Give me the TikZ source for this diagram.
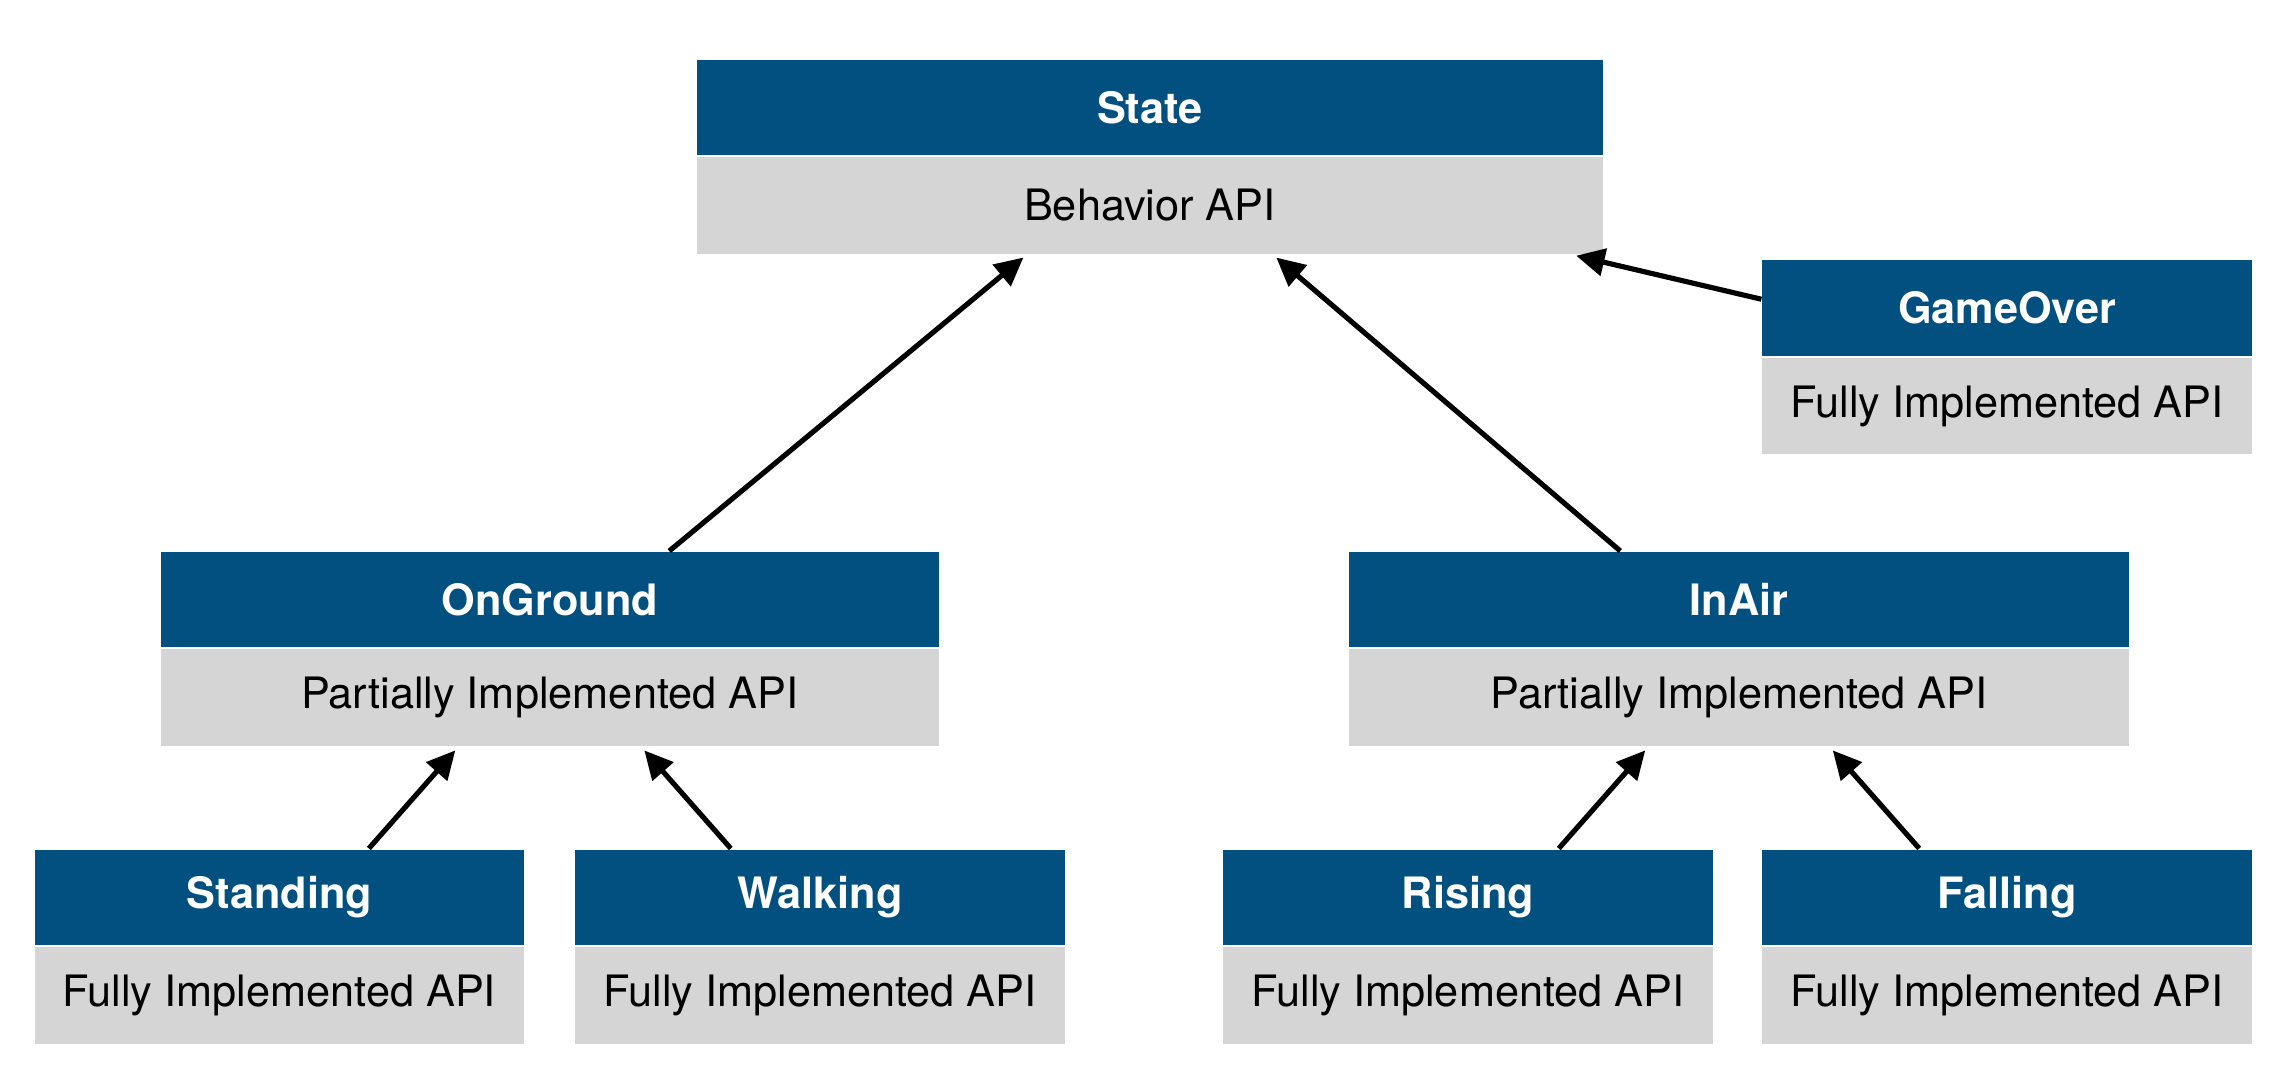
\documentclass[tikz,border=0pt]{standalone}
\usepackage{fontspec}
\setmainfont{TeX Gyre Heros}
\usetikzlibrary{positioning,arrows.meta}
\definecolor{headblue}{HTML}{02507F}
\definecolor{bodygray}{HTML}{D5D5D5}

\begin{document}
\begin{tikzpicture}[
    head/.style={fill=headblue, text=white, anchor=north west, minimum height=0.65cm,
        inner sep=0pt, font=\fontsize{8.4}{10}\selectfont\bfseries},
    api/.style={fill=bodygray, anchor=north, minimum height=0.66cm, inner sep=0pt,
        font=\fontsize{8.4}{10}\selectfont},
    inherit/.style={line width=1pt, -{Triangle[length=5.5pt,width=5.3pt]}, shorten >=0.03cm}
    ]
    \useasboundingbox (0,0) rectangle (15.6,7.38);
    % top of the hierarchy
    \node[head, minimum width=6.18cm] (state) at (4.75,6.98) {State};
    \node[api, minimum width=6.18cm, below=0pt of state] (stateapi) {Behavior API};
    \node[head, minimum width=3.34cm] (gameover) at (12.02,5.61) {GameOver};
    \node[api, minimum width=3.34cm, below=0pt of gameover] (gameoverapi) {Fully Implemented API};
    % middle level
    \node[head, minimum width=5.31cm] (onground) at (1.09,3.62) {OnGround};
    \node[api, minimum width=5.31cm, below=0pt of onground] (ongroundapi) {Partially Implemented API};
    \node[head, minimum width=5.32cm] (inair) at (9.20,3.62) {InAir};
    \node[api, minimum width=5.32cm, below=0pt of inair] (inairapi) {Partially Implemented API};
    % leaves
    \node[head, minimum width=3.34cm] (standing) at (0.23,1.59) {Standing};
    \node[api, minimum width=3.34cm, below=0pt of standing] (standingapi) {Fully Implemented API};
    \node[head, minimum width=3.34cm] (walking) at (3.92,1.59) {Walking};
    \node[api, minimum width=3.34cm, below=0pt of walking] (walkingapi) {Fully Implemented API};
    \node[head, minimum width=3.34cm] (rising) at (8.34,1.59) {Rising};
    \node[api, minimum width=3.34cm, below=0pt of rising] (risingapi) {Fully Implemented API};
    \node[head, minimum width=3.34cm] (falling) at (12.02,1.59) {Falling};
    \node[api, minimum width=3.34cm, below=0pt of falling] (fallingapi) {Fully Implemented API};

    \draw[inherit] ([xshift=0.815cm]onground.north) -- ([xshift=-0.84cm]stateapi.south);
    \draw[inherit] ([xshift=-0.81cm]inair.north) -- ([xshift=0.84cm]stateapi.south);
    \draw[inherit] ([yshift=0.06cm]gameover.west) -- ([xshift=2.88cm]stateapi.south);
    \draw[inherit] ([xshift=0.61cm]standing.north) -- ([xshift=-0.625cm]ongroundapi.south);
    \draw[inherit] ([xshift=-0.61cm]walking.north) -- ([xshift=0.625cm]ongroundapi.south);
    \draw[inherit] ([xshift=0.62cm]rising.north) -- ([xshift=-0.62cm]inairapi.south);
    \draw[inherit] ([xshift=-0.60cm]falling.north) -- ([xshift=0.62cm]inairapi.south);
\end{tikzpicture}
\end{document}
